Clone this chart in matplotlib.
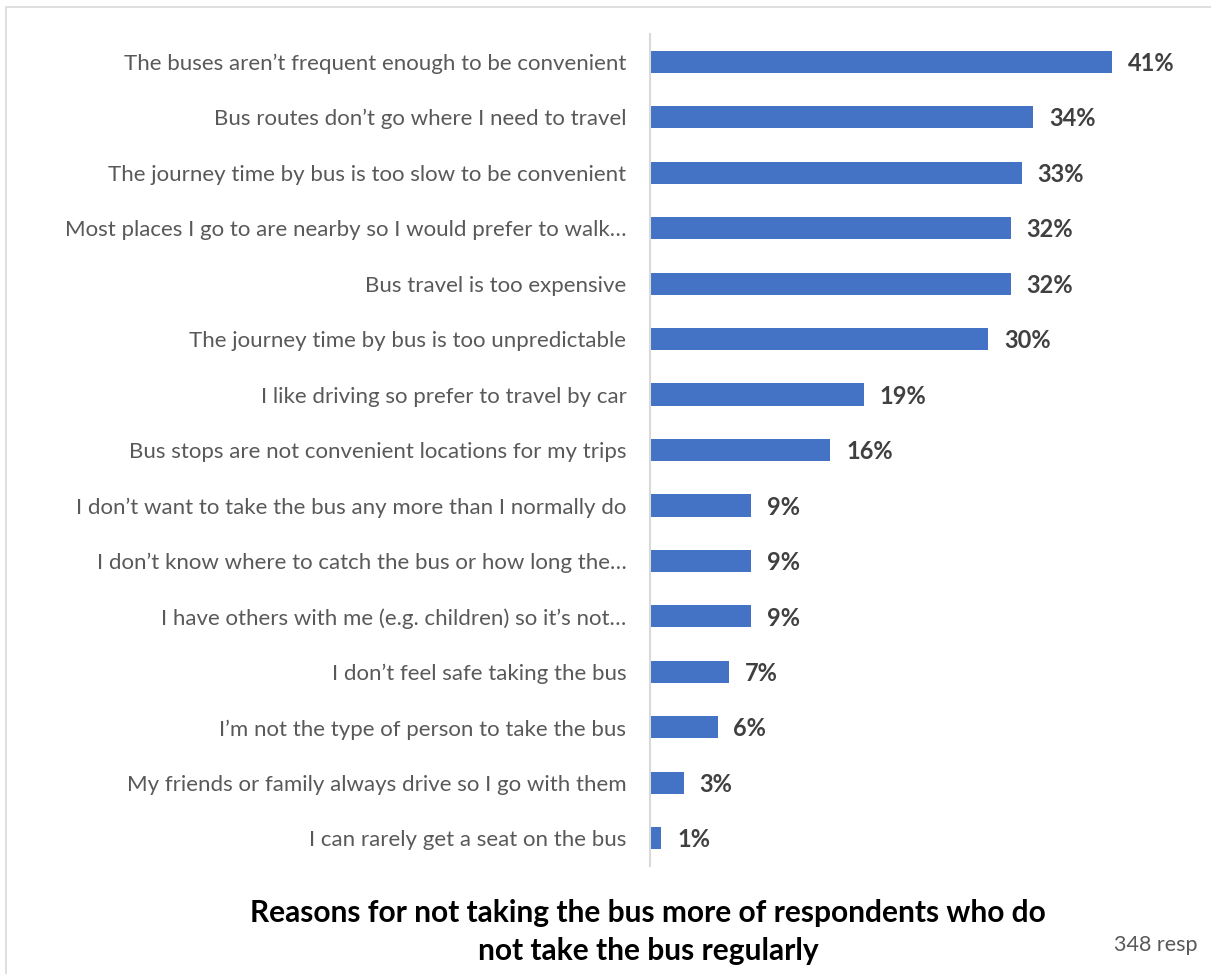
import matplotlib.pyplot as plt
from matplotlib.patches import Rectangle

plt.rcParams['font.family'] = ['Lato', 'DejaVu Sans']

# Reasons given, top to bottom
reasons = [
    "The buses aren\u2019t frequent enough to be convenient",
    "Bus routes don\u2019t go where I need to travel",
    "The journey time by bus is too slow to be convenient",
    "Most places I go to are nearby so I would prefer to walk\u2026",
    "Bus travel is too expensive",
    "The journey time by bus is too unpredictable",
    "I like driving so prefer to travel by car",
    "Bus stops are not convenient locations for my trips",
    "I don\u2019t want to take the bus any more than I normally do",
    "I don\u2019t know where to catch the bus or how long the\u2026",
    "I have others with me (e.g. children) so it\u2019s not\u2026",
    "I don\u2019t feel safe taking the bus",
    "I\u2019m not the type of person to take the bus",
    "My friends or family always drive so I go with them",
    "I can rarely get a seat on the bus",
]
percent = [41, 34, 33, 32, 32, 30, 19, 16, 9, 9, 9, 7, 6, 3, 1]

W, H = 1211, 974
fig = plt.figure(figsize=(W / 100, H / 100), dpi=100)
fig.patches.append(Rectangle((6 / W, -0.01), 1.02, 1 - 7 / H + 0.01,
                             transform=fig.transFigure, fill=False,
                             edgecolor='#D9D9D9', linewidth=1.2))

ax = fig.add_axes([650 / W, 1 - 866 / H, 530 / W, 832 / H])
y = range(len(reasons))
ax.barh(y, percent, height=0.4, color='#4472C4')
ax.set_ylim(len(reasons) - 0.5, -0.5)
ax.set_xlim(0, 41 * 530 / 462)

for yi, v in zip(y, percent):
    ax.text(v + 1.4, yi + 0.03, f'{v}%', va='center', ha='left',
            fontsize=17, fontweight='bold', color='#404040')

ax.set_yticks(list(y))
ax.set_yticklabels(reasons, fontsize=16, color='#595959')
ax.tick_params(axis='y', length=0, pad=17)
ax.set_xticks([])
for s in ['top', 'right', 'bottom']:
    ax.spines[s].set_visible(False)
ax.spines['left'].set_color('#D9D9D9')
ax.spines['left'].set_linewidth(1.5)

fig.text(648 / W, 1 - 932 / H,
         'Reasons for not taking the bus more of respondents who do\nnot take the bus regularly',
         ha='center', va='center', fontsize=21.5, fontweight='bold',
         color='black', linespacing=1.42)
fig.text(1198 / W, 1 - 945 / H, '348 resp', ha='right', va='center',
         fontsize=15.5, color='#595959')

fig.savefig('out.png', dpi=100)
